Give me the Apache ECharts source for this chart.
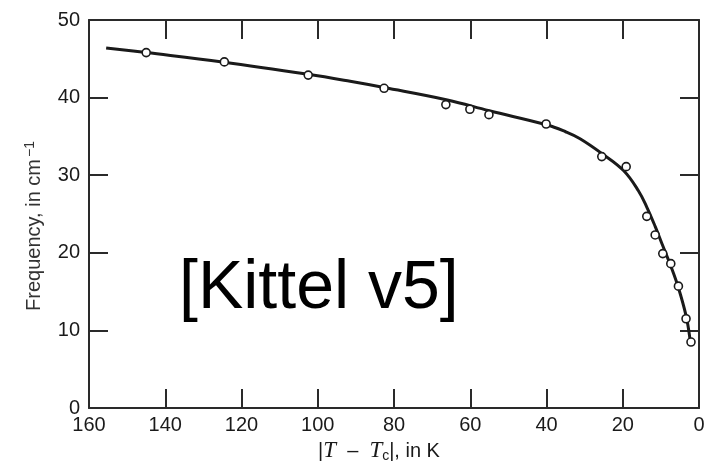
<!DOCTYPE html>
<html>
<head>
<meta charset="utf-8">
<script src="https://cdn.jsdelivr.net/npm/echarts@6/dist/echarts.min.js"></script>
<style>
  html, body { margin: 0; padding: 0; background: #fff; }
  #chart { width: 713px; height: 462px; }
</style>
</head>
<body>
<div id="chart"></div>
<script>
// Soft-mode frequency vs. distance from the transition temperature
var tempDiff = [145, 124.5, 102.5, 82.6, 66.4, 60.1, 55.1, 40.1, 25.5, 19.1, 13.7, 11.5, 9.5, 7.4, 5.4, 3.4, 2.1];
var frequency = [45.8, 44.6, 42.9, 41.2, 39.1, 38.5, 37.8, 36.6, 32.4, 31.1, 24.7, 22.3, 19.9, 18.6, 15.7, 11.5, 8.5];

// Smooth guide curve through the measurements
var curveT = [155.5, 145, 125, 102.5, 91.5, 82.6, 66, 55, 40, 35, 31.2, 25.5, 19.8, 15.9, 13.7, 11.5, 9.5, 7.4, 5.4, 3.4, 2.4];
var curveF = [46.4, 45.8, 44.6, 43.0, 42.1, 41.3, 39.7, 38.3, 36.5, 35.6, 34.7, 32.8, 30.6, 28.0, 25.9, 23.4, 20.9, 18.3, 15.5, 11.9, 9.0];

var xTicks = { min: 0, max: 160, interval: 20 };
var yTicks = { min: 0, max: 50, interval: 10 };

var frameColor = '#2a2a2a';
var inkColor = '#1a1a1a';
var labelFont = '"Liberation Sans", Arial, sans-serif';
var serifFont = '"Liberation Serif", "Times New Roman", serif';

function pairs(xs, ys) {
  return xs.map(function (x, i) { return [x, ys[i]]; });
}

var chart = echarts.init(document.getElementById('chart'), null, { renderer: 'canvas' });

var tickStyle = { show: true, inside: true, length: 19, lineStyle: { color: frameColor, width: 2 } };
var lineStyle = { show: true, onZero: false, lineStyle: { color: frameColor, width: 2 } };

chart.setOption({
  animation: false,
  backgroundColor: '#ffffff',
  grid: { left: 89, right: 14, top: 20, bottom: 54, containLabel: false, outerBoundsMode: 'none' },
  xAxis: [{
    type: 'value', inverse: true,
    min: xTicks.min, max: xTicks.max, interval: xTicks.interval,
    position: 'bottom',
    axisLine: lineStyle, axisTick: tickStyle, splitLine: { show: false },
    axisLabel: { margin: 7, fontSize: 20, color: inkColor, fontFamily: labelFont },
    name: '{p||}{it|T}{p|  –  }{it|T}{sub|c}{end||, in K}',
    nameLocation: 'middle', nameGap: 30,
    nameTextStyle: {
      rich: {
        p: { fontSize: 20, color: inkColor, fontFamily: labelFont },
        end: { fontSize: 20, color: inkColor, fontFamily: labelFont, padding: [0, 30, 0, 0] },
        it: { fontSize: 23, fontStyle: 'italic', color: inkColor, fontFamily: serifFont },
        sub: { fontSize: 14, color: inkColor, fontFamily: labelFont, padding: [9, 0, 0, 0] }
      }
    }
  }, {
    type: 'value', inverse: true,
    min: xTicks.min, max: xTicks.max, interval: xTicks.interval,
    position: 'top',
    axisLine: lineStyle, axisTick: tickStyle, splitLine: { show: false },
    axisLabel: { show: false }
  }],
  yAxis: [{
    type: 'value',
    min: yTicks.min, max: yTicks.max, interval: yTicks.interval,
    position: 'left',
    axisLine: lineStyle, axisTick: tickStyle, splitLine: { show: false },
    axisLabel: { margin: 9, fontSize: 20, color: inkColor, fontFamily: labelFont },
    name: '{p|Frequency, in cm}{sup|−1}',
    nameLocation: 'middle', nameGap: 43, nameRotate: 90,
    nameTextStyle: {
      rich: {
        p: { fontSize: 20, color: '#333', fontFamily: labelFont },
        sup: { fontSize: 14, color: '#333', fontFamily: labelFont, padding: [0, 24, 9, 2] }
      }
    }
  }, {
    type: 'value',
    min: yTicks.min, max: yTicks.max, interval: yTicks.interval,
    position: 'right',
    axisLine: lineStyle, axisTick: tickStyle, splitLine: { show: false },
    axisLabel: { show: false }
  }],
  graphic: [{
    type: 'text',
    left: 179, top: 255,
    style: {
      text: '[Kittel v5]',
      font: '68px "Liberation Sans", Arial, sans-serif',
      fill: '#000'
    },
    z: 100
  }],
  series: [{
    type: 'line',
    data: pairs(curveT, curveF),
    smooth: 0.4,
    symbol: 'none',
    lineStyle: { color: inkColor, width: 3 },
    z: 2
  }, {
    type: 'scatter',
    data: pairs(tempDiff, frequency),
    symbol: 'circle',
    symbolSize: 8,
    itemStyle: { color: '#ffffff', borderColor: inkColor, borderWidth: 1.6, opacity: 1 },
    z: 3
  }]
});
</script>
</body>
</html>
